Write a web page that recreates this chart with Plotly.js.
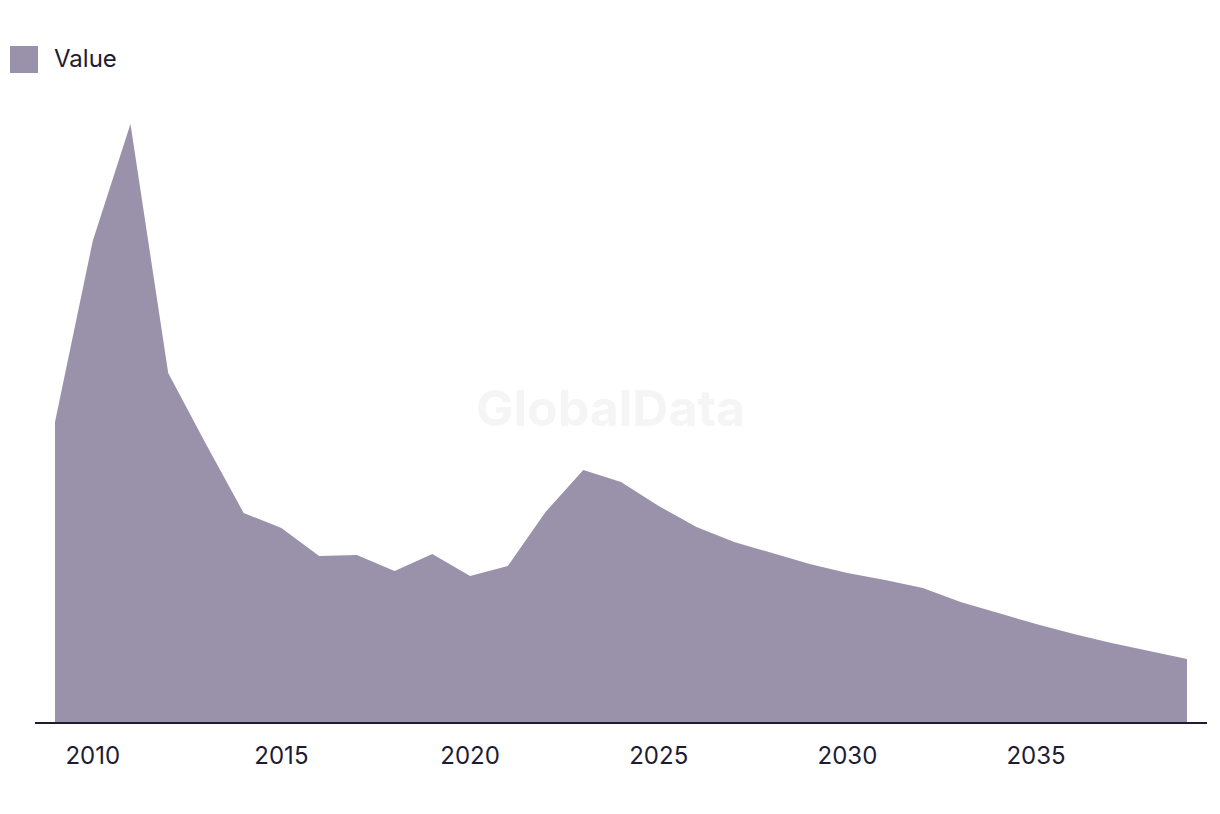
<!DOCTYPE html>
<html>
<head>
<meta charset="utf-8">
<script src="https://cdn.plot.ly/plotly-3.0.1.min.js"></script>
<style>
  html, body { margin: 0; padding: 0; background: #ffffff; }
  #chart { width: 1220px; height: 814px; }
</style>
</head>
<body>
<div id="chart"></div>
<script>
const years = [2009, 2010, 2011, 2012, 2013, 2014, 2015, 2016, 2017, 2018, 2019, 2020,
               2021, 2022, 2023, 2024, 2025, 2026, 2027, 2028, 2029, 2030, 2031, 2032,
               2033, 2034, 2035, 2036, 2037, 2038, 2039];
const values = [300, 481, 598, 349, 278, 209, 194, 166, 167, 151, 168, 146,
                156, 210, 252, 240, 216, 195, 180, 169, 158, 149, 142, 134,
                120, 109, 98, 88, 79, 71, 63];
const seriesName = "Value";
const tickYears = [2010, 2015, 2020, 2025, 2030, 2035];
const watermark = "GlobalData";

const fillColor = "#9a92aa";
const textColor = "#1e1c33";
const fontFamily = "Inter, 'Liberation Sans', Arial, sans-serif";

const trace = {
  x: years,
  y: values,
  name: seriesName,
  type: "scatter",
  mode: "lines",
  fill: "tozeroy",
  fillcolor: fillColor,
  line: { width: 0, color: fillColor },
  showlegend: false,
  hoverinfo: "x+y"
};

const layout = {
  width: 1220,
  height: 814,
  margin: { l: 35, r: 13, t: 110, b: 92 },
  paper_bgcolor: "#ffffff",
  plot_bgcolor: "#ffffff",
  font: { family: fontFamily, color: textColor, size: 20 },
  xaxis: {
    range: [2008.47, 2039.53],
    tickvals: tickYears,
    ticktext: tickYears.map(String),
    showgrid: false,
    zeroline: false,
    showline: true,
    linecolor: textColor,
    linewidth: 2,
    ticks: "outside",
    ticklen: 11,
    tickcolor: "rgba(0,0,0,0)",
    tickfont: { family: fontFamily, size: 24, color: textColor }
  },
  yaxis: {
    range: [0, 612],
    visible: false,
    showgrid: false,
    zeroline: false,
    fixedrange: true
  },
  shapes: [
    {
      type: "rect", xref: "paper", yref: "paper",
      x0: (10 - 35) / 1172, x1: (38 - 35) / 1172,
      y0: (722 - 73) / 612, y1: (722 - 46) / 612,
      fillcolor: fillColor, line: { width: 0 }
    }
  ],
  annotations: [
    {
      text: seriesName, xref: "paper", yref: "paper",
      x: (52 - 35) / 1172, y: (722 - 58) / 612,
      xanchor: "left", yanchor: "middle", showarrow: false,
      font: { family: fontFamily, size: 24, color: textColor }
    },
    {
      text: watermark, xref: "paper", yref: "paper",
      x: (610 - 35) / 1172, y: (722 - 408) / 612,
      xanchor: "center", yanchor: "middle", showarrow: false,
      font: { family: fontFamily, size: 50, color: "#f5f5f5", weight: 700 }
    }
  ]
};

Plotly.newPlot("chart", [trace], layout, { displayModeBar: false, staticPlot: false });
</script>
</body>
</html>
